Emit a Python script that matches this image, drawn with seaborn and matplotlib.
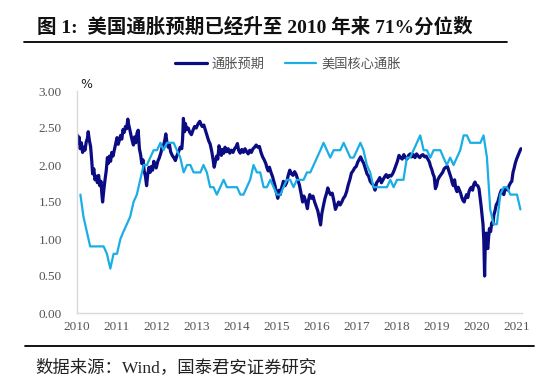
import numpy as np
import pandas as pd
import matplotlib
matplotlib.use("Agg")
import matplotlib.pyplot as plt
import seaborn as sns

# ---------------- data ----------------
title = "图 1:  美国通胀预期已经升至 2010 年来 71%分位数"
source = "数据来源：Wind，国泰君安证券研究"
series_names = ["通胀预期", "美国核心通胀"]
year_ticks = list(range(2010, 2022))
y_ticks = [0.0, 0.5, 1.0, 1.5, 2.0, 2.5, 3.0]

# 10Y breakeven (通胀预期): time in decimal years, value in %
be_t = [
    2010.00, 2010.03, 2010.05, 2010.08, 2010.11, 2010.14, 2010.17, 2010.20, 2010.23, 2010.26,
    2010.28, 2010.31, 2010.34, 2010.37, 2010.39, 2010.42, 2010.45, 2010.48, 2010.51, 2010.54,
    2010.57, 2010.60, 2010.62, 2010.64, 2010.67, 2010.70, 2010.73, 2010.76, 2010.78, 2010.81,
    2010.84, 2010.87, 2010.90, 2010.94, 2010.97, 2011.00, 2011.03, 2011.06, 2011.09, 2011.12,
    2011.15, 2011.18, 2011.21, 2011.24, 2011.27, 2011.29, 2011.32, 2011.35, 2011.38, 2011.41,
    2011.44, 2011.47, 2011.50, 2011.53, 2011.56, 2011.59, 2011.62, 2011.65, 2011.68, 2011.71,
    2011.74, 2011.77, 2011.80, 2011.83, 2011.86, 2011.89, 2011.92, 2011.95, 2011.98, 2012.02,
    2012.06, 2012.10, 2012.13, 2012.17, 2012.20, 2012.22, 2012.25, 2012.28, 2012.31, 2012.34,
    2012.38, 2012.42, 2012.46, 2012.50, 2012.54, 2012.58, 2012.62, 2012.64, 2012.66, 2012.69,
    2012.71, 2012.74, 2012.78, 2012.82, 2012.86, 2012.90, 2012.94, 2012.98, 2013.03, 2013.07,
    2013.10, 2013.13, 2013.17, 2013.21, 2013.25, 2013.29, 2013.33, 2013.37, 2013.40, 2013.43,
    2013.46, 2013.49, 2013.52, 2013.55, 2013.58, 2013.61, 2013.64, 2013.67, 2013.70, 2013.74,
    2013.78, 2013.82, 2013.86, 2013.90, 2013.94, 2013.98, 2014.01, 2014.04, 2014.08, 2014.12,
    2014.16, 2014.20, 2014.24, 2014.28, 2014.32, 2014.36, 2014.40, 2014.44, 2014.48, 2014.52,
    2014.56, 2014.60, 2014.64, 2014.68, 2014.72, 2014.75, 2014.78, 2014.81, 2014.85, 2014.89,
    2014.92, 2014.95, 2014.98, 2015.02, 2015.05, 2015.08, 2015.12, 2015.16, 2015.20, 2015.24,
    2015.28, 2015.32, 2015.36, 2015.40, 2015.44, 2015.48, 2015.52, 2015.56, 2015.60, 2015.64,
    2015.67, 2015.70, 2015.73, 2015.76, 2015.79, 2015.82, 2015.86, 2015.90, 2015.94, 2015.98,
    2016.02, 2016.05, 2016.09, 2016.12, 2016.16, 2016.20, 2016.24, 2016.27, 2016.30, 2016.34,
    2016.38, 2016.42, 2016.46, 2016.50, 2016.54, 2016.58, 2016.62, 2016.66, 2016.70, 2016.74,
    2016.78, 2016.82, 2016.86, 2016.90, 2016.94, 2016.98, 2017.02, 2017.06, 2017.09, 2017.13,
    2017.17, 2017.21, 2017.25, 2017.29, 2017.33, 2017.37, 2017.41, 2017.45, 2017.49, 2017.53,
    2017.57, 2017.61, 2017.65, 2017.69, 2017.73, 2017.77, 2017.81, 2017.85, 2017.89, 2017.93,
    2017.97, 2018.01, 2018.05, 2018.09, 2018.13, 2018.17, 2018.21, 2018.25, 2018.29, 2018.33,
    2018.37, 2018.41, 2018.45, 2018.49, 2018.53, 2018.57, 2018.61, 2018.65, 2018.69, 2018.73,
    2018.77, 2018.81, 2018.84, 2018.87, 2018.90, 2018.93, 2018.96, 2018.99, 2019.02, 2019.06,
    2019.10, 2019.14, 2019.18, 2019.22, 2019.26, 2019.29, 2019.32, 2019.35, 2019.38, 2019.41,
    2019.44, 2019.47, 2019.50, 2019.53, 2019.56, 2019.59, 2019.62, 2019.65, 2019.68, 2019.71,
    2019.74, 2019.77, 2019.80, 2019.83, 2019.86, 2019.89, 2019.92, 2019.95, 2019.98, 2020.02,
    2020.05, 2020.08, 2020.10, 2020.13, 2020.15, 2020.17, 2020.19, 2020.21, 2020.23, 2020.25,
    2020.27, 2020.29, 2020.31, 2020.34, 2020.37, 2020.40, 2020.42, 2020.45, 2020.48, 2020.52,
    2020.55, 2020.58, 2020.61, 2020.64, 2020.67, 2020.70, 2020.74, 2020.77, 2020.80, 2020.84,
    2020.87, 2020.90, 2020.93, 2020.96, 2020.99, 2021.02, 2021.05, 2021.08, 2021.10,
]
be_v = [
    2.41, 2.30, 2.38, 2.22, 2.30, 2.17, 2.24, 2.20, 2.31, 2.36,
    2.45, 2.33, 2.25, 2.05, 1.88, 1.95, 1.80, 1.85, 1.76, 1.86,
    1.72, 1.78, 1.62, 1.50, 1.66, 1.80, 1.92, 2.10, 2.02, 2.12,
    2.05, 2.17, 2.12, 2.22, 2.30, 2.37, 2.28, 2.34, 2.40, 2.35,
    2.48, 2.44, 2.52, 2.49, 2.62, 2.55, 2.48, 2.40, 2.33, 2.27,
    2.38, 2.30, 2.43, 2.47, 2.22, 2.14, 2.02, 2.07, 1.92, 1.85,
    1.72, 1.88, 1.97, 1.90, 1.98, 1.93, 2.05, 2.00, 1.96, 2.05,
    2.10, 2.17, 2.25, 2.28, 2.35, 2.42, 2.30, 2.24, 2.28, 2.18,
    2.13, 2.10, 2.06, 2.13, 2.18, 2.24, 2.22, 2.35, 2.63, 2.45,
    2.56, 2.48, 2.50, 2.44, 2.41, 2.47, 2.52, 2.50, 2.56, 2.59,
    2.55, 2.52, 2.54, 2.47, 2.40, 2.33, 2.28, 2.18, 2.08, 1.97,
    2.05, 2.12, 2.08, 2.26, 2.20, 2.13, 2.21, 2.16, 2.24, 2.18,
    2.22, 2.16, 2.20, 2.17, 2.22, 2.25, 2.29, 2.20, 2.16, 2.21,
    2.17, 2.22, 2.18, 2.15, 2.20, 2.17, 2.22, 2.24, 2.27, 2.24,
    2.25, 2.17, 2.11, 2.07, 2.02, 1.96, 1.92, 1.97, 1.90, 1.84,
    1.78, 1.72, 1.64, 1.55, 1.66, 1.60, 1.70, 1.78, 1.72, 1.76,
    1.86, 1.93, 1.88, 1.86, 1.91, 1.87, 1.80, 1.73, 1.62, 1.50,
    1.58, 1.54, 1.48, 1.41, 1.53, 1.60, 1.55, 1.58, 1.50, 1.44,
    1.38, 1.30, 1.19, 1.34, 1.45, 1.55, 1.62, 1.69, 1.64, 1.60,
    1.62, 1.52, 1.40, 1.45, 1.50, 1.46, 1.50, 1.55, 1.58, 1.64,
    1.73, 1.80, 1.89, 1.92, 1.96, 1.98, 2.04, 2.08, 2.11, 2.06,
    2.02, 1.95, 1.88, 1.85, 1.78, 1.75, 1.73, 1.66, 1.76, 1.79,
    1.83, 1.76, 1.80, 1.84, 1.87, 1.83, 1.86, 1.85, 1.88, 1.93,
    1.99, 2.05, 2.13, 2.10, 2.08, 2.14, 2.10, 2.08, 2.13, 2.15,
    2.11, 2.14, 2.10, 2.15, 2.12, 2.10, 2.13, 2.14, 2.11, 2.12,
    2.08, 2.04, 1.98, 1.94, 1.88, 1.84, 1.68, 1.72, 1.80, 1.84,
    1.87, 1.90, 1.95, 1.97, 1.98, 1.93, 1.88, 1.83, 1.76, 1.72,
    1.80, 1.68, 1.64, 1.70, 1.66, 1.62, 1.56, 1.52, 1.50, 1.56,
    1.60, 1.56, 1.64, 1.68, 1.70, 1.66, 1.74, 1.77, 1.73, 1.72,
    1.68, 1.55, 1.46, 1.30, 1.20, 0.98, 0.50, 1.00, 1.08, 0.92,
    0.87, 1.02, 1.14, 1.10, 1.22, 1.20, 1.32, 1.38, 1.46, 1.50,
    1.56, 1.62, 1.66, 1.63, 1.60, 1.67, 1.69, 1.66, 1.72, 1.76,
    1.78, 1.90, 1.96, 2.03, 2.08, 2.12, 2.16, 2.20, 2.22,
]

# US core CPI yoy (美国核心通胀), monthly Jan 2010 .. Jan 2021
cpi_months = pd.period_range("2010-01", "2021-01", freq="M")
cpi_v = [
    1.6, 1.3, 1.1, 0.9, 0.9, 0.9, 0.9, 0.9, 0.8, 0.6, 0.8, 0.8,
    1.0, 1.1, 1.2, 1.3, 1.5, 1.6, 1.8, 2.0, 2.0, 2.1, 2.2, 2.2,
    2.3, 2.2, 2.3, 2.3, 2.3, 2.2, 2.1, 1.9, 2.0, 2.0, 1.9, 1.9,
    1.9, 2.0, 1.9, 1.7, 1.7, 1.6, 1.7, 1.8, 1.7, 1.7, 1.7, 1.7,
    1.6, 1.6, 1.7, 1.8, 2.0, 1.9, 1.9, 1.7, 1.7, 1.8, 1.7, 1.6,
    1.6, 1.7, 1.8, 1.8, 1.7, 1.8, 1.8, 1.8, 1.9, 1.9, 2.0, 2.1,
    2.2, 2.3, 2.2, 2.1, 2.2, 2.2, 2.2, 2.3, 2.2, 2.1, 2.1, 2.2,
    2.3, 2.2, 2.0, 1.9, 1.7, 1.7, 1.7, 1.7, 1.7, 1.8, 1.7, 1.8,
    1.8, 1.8, 2.1, 2.1, 2.2, 2.3, 2.4, 2.2, 2.2, 2.1, 2.2, 2.2,
    2.2, 2.1, 2.0, 2.1, 2.0, 2.1, 2.2, 2.4, 2.4, 2.3, 2.3, 2.3,
    2.3, 2.4, 2.1, 1.4, 1.2, 1.2, 1.6, 1.7, 1.7, 1.6, 1.6, 1.6,
    1.4,
]

# ---------------- frames ----------------
be_df = pd.DataFrame({"t": be_t, "v": be_v})
cpi_end = cpi_months.to_timestamp(how="end")
cpi_t = [d.year + (d.dayofyear) / (366 if d.is_leap_year else 365) for d in cpi_end]
cpi_df = pd.DataFrame({"t": cpi_t, "v": cpi_v})

# ---------------- style ----------------
sns.set_style("white")
plt.rcParams["font.family"] = ["Liberation Serif", "Noto Sans CJK SC"]

W, H = 550, 386
fig = plt.figure(figsize=(W / 100, H / 100), dpi=100)

def fx(x):
    return x / W

def fy(y):
    return 1 - y / H

ax = fig.add_axes([fx(77), fy(313), fx(522) - fx(77), fy(91) - fy(313)])

dark = "#0b0b82"
light = "#1aaee5"
sns.lineplot(data=be_df, x="t", y="v", ax=ax, color=dark, lw=2.3,
             sort=False, estimator=None, label=series_names[0])
sns.lineplot(data=cpi_df, x="t", y="v", ax=ax, color=light, lw=1.6,
             sort=False, estimator=None, label=series_names[1])

ax.set_xlim(2010, 2021.125)
ax.set_ylim(0, 3.0)
ax.set_xticks(year_ticks)
ax.set_xticklabels([str(y) for y in year_ticks])
ax.set_yticks(y_ticks)
ax.set_yticklabels([f"{v:.2f}" for v in y_ticks])
ax.set_xlabel("")
ax.set_ylabel("")
for s in ["top", "right"]:
    ax.spines[s].set_visible(False)
for s in ["left", "bottom"]:
    ax.spines[s].set_color("#d9d9d9")
    ax.spines[s].set_linewidth(1.0)
ax.tick_params(axis="both", colors="#d9d9d9", labelcolor="#555555",
               labelsize=9.5, length=3, width=0.8)
ax.tick_params(axis="y", pad=8)
ax.tick_params(axis="x", pad=6, direction="in")
ax.grid(False)

leg = ax.legend(loc="center", bbox_to_anchor=(fx(288), fy(64)),
                bbox_transform=fig.transFigure, ncol=2, frameon=False,
                handlelength=2.4, handletextpad=0.4, columnspacing=1.5,
                prop={"family": ["Noto Sans CJK SC"], "size": 9.5})
for t in leg.get_texts():
    t.set_color("#555555")

# title, rules, annotations
fig.text(fx(37), fy(27), title, fontsize=14.0, fontweight="bold",
         ha="left", va="center", color="#111111")
fig.add_artist(plt.Line2D([fx(24), fx(507)], [fy(41.5), fy(41.5)],
                          transform=fig.transFigure, color="black", lw=1.3))
fig.add_artist(plt.Line2D([fx(25), fx(534)], [fy(345.5), fy(345.5)],
                          transform=fig.transFigure, color="black", lw=1.3))
fig.text(fx(86), fy(84), "%", fontsize=9, ha="center", va="center",
         family=["DejaVu Sans"], color="#222222")
fig.text(fx(35), fy(368), source, fontsize=12.5, ha="left", va="center",
         color="#222222")

fig.savefig("out.png", dpi=100)
